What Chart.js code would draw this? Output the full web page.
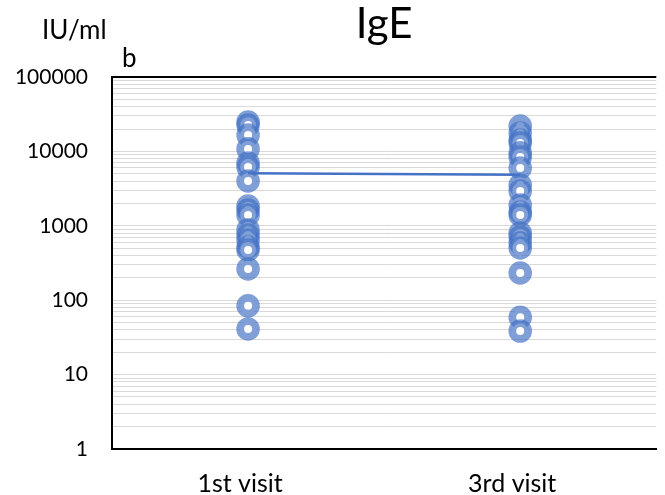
<!DOCTYPE html>
<html>
<head>
<meta charset="utf-8">
<script src="https://cdn.jsdelivr.net/npm/chart.js@4.4.1/dist/chart.umd.min.js"></script>
<style>
  html, body { margin: 0; padding: 0; background: #fff; overflow: hidden; }
  #wrap { position: relative; width: 672px; height: 495px; }
</style>
</head>
<body>
<div id="wrap"><canvas id="igeChart" width="672" height="495"></canvas></div>
<script>
const categories = ['1st visit', '3rd visit'];
// IgE per patient, IU/ml
const firstVisit = [24800, 22600, 16600, 10800, 6980, 6170, 4000, 1845, 1630, 1400, 879, 752, 644, 519, 473, 263, 84, 41];
const thirdVisit = [21900, 17700, 14200, 12970, 9550, 8420, 5980, 3530, 2940, 1900, 1530, 1400, 800, 706, 587, 503, 232, 59, 38.5];
const meanLine = [5100, 4850];
const yTickLabels = [1, 10, 100, 1000, 10000, 100000];
const chartTitle = 'IgE';
const unitLabel = 'IU/ml';
const panelLetter = 'b';

const FONT = 'Lato';
const ringColor = 'rgba(68,114,196,0.68)';

// gridlines at 1..9 of every decade
const gridValues = [];
for (let i = 0; i < yTickLabels.length - 1; i++) {
  for (let m = 1; m <= 9; m++) gridValues.push(m * yTickLabels[i]);
}
gridValues.push(yTickLabels[yTickLabels.length - 1]);

const textPlugin = {
  id: 'extraText',
  afterDraw(chart) {
    const {ctx, chartArea} = chart;
    ctx.save();
    ctx.fillStyle = '#000';
    ctx.textBaseline = 'alphabetic';
    ctx.textAlign = 'center';
    ctx.font = `42px ${FONT}`;
    ctx.fillText(chartTitle, (chartArea.left + chartArea.right) / 2, 38);
    ctx.textAlign = 'left';
    ctx.font = `26px ${FONT}`;
    ctx.fillText(unitLabel, 42, 39);
    ctx.fillText(panelLetter, 122, 67);
    ctx.restore();
  }
};

const pointStyle = {
  showLine: false,
  pointRadius: 7.9,
  pointHoverRadius: 7.9,
  pointBorderWidth: 7.8,
  pointBackgroundColor: '#fff',
  pointBorderColor: ringColor,
  borderColor: ringColor,
  backgroundColor: '#fff'
};

new Chart(document.getElementById('igeChart'), {
  type: 'line',
  data: {
    labels: categories,
    datasets: [
      {
        label: 'mean',
        data: meanLine,
        borderColor: '#4472C4',
        borderWidth: 2.5,
        pointRadius: 0,
        order: 0
      },
      Object.assign({
        label: categories[0],
        data: firstVisit.map(v => ({x: categories[0], y: v})),
        order: 1
      }, pointStyle),
      Object.assign({
        label: categories[1],
        data: thirdVisit.map(v => ({x: categories[1], y: v})),
        order: 1
      }, pointStyle)
    ]
  },
  options: {
    responsive: false,
    animation: false,
    layout: { padding: { left: 0, top: 77, right: 4, bottom: 0 } },
    plugins: {
      legend: { display: false },
      title: { display: false },
      tooltip: { enabled: false }
    },
    scales: {
      x: {
        type: 'category',
        offset: true,
        afterFit: (scale) => {
          scale.height = 46;
          scale.paddingLeft = 0;
          scale.paddingRight = 0;
        },
        grid: { display: false, drawTicks: false },
        border: { display: true, color: '#000', width: 2 },
        ticks: {
          color: '#000',
          padding: 20,
          labelOffset: -8,
          font: { family: FONT, size: 25 }
        }
      },
      y: {
        type: 'logarithmic',
        min: 1,
        max: 100000,
        afterBuildTicks: (scale) => {
          scale.ticks = gridValues.map(v => ({value: v}));
        },
        afterFit: (scale) => {
          scale.width = 112;
          scale.paddingTop = 0;
          scale.paddingBottom = 0;
        },
        grid: {
          drawTicks: false,
          color: (c) => (c.tick && c.tick.value === 100000) ? '#000' : '#d9d9d9',
          lineWidth: (c) => (c.tick && c.tick.value === 100000) ? 2 : 1
        },
        border: { display: true, color: '#000', width: 2 },
        ticks: {
          autoSkip: false,
          color: '#000',
          padding: 24,
          font: { family: FONT, size: 21 },
          callback: (value) => yTickLabels.includes(value) ? String(value) : ''
        }
      }
    }
  },
  plugins: [textPlugin]
});
</script>
</body>
</html>
